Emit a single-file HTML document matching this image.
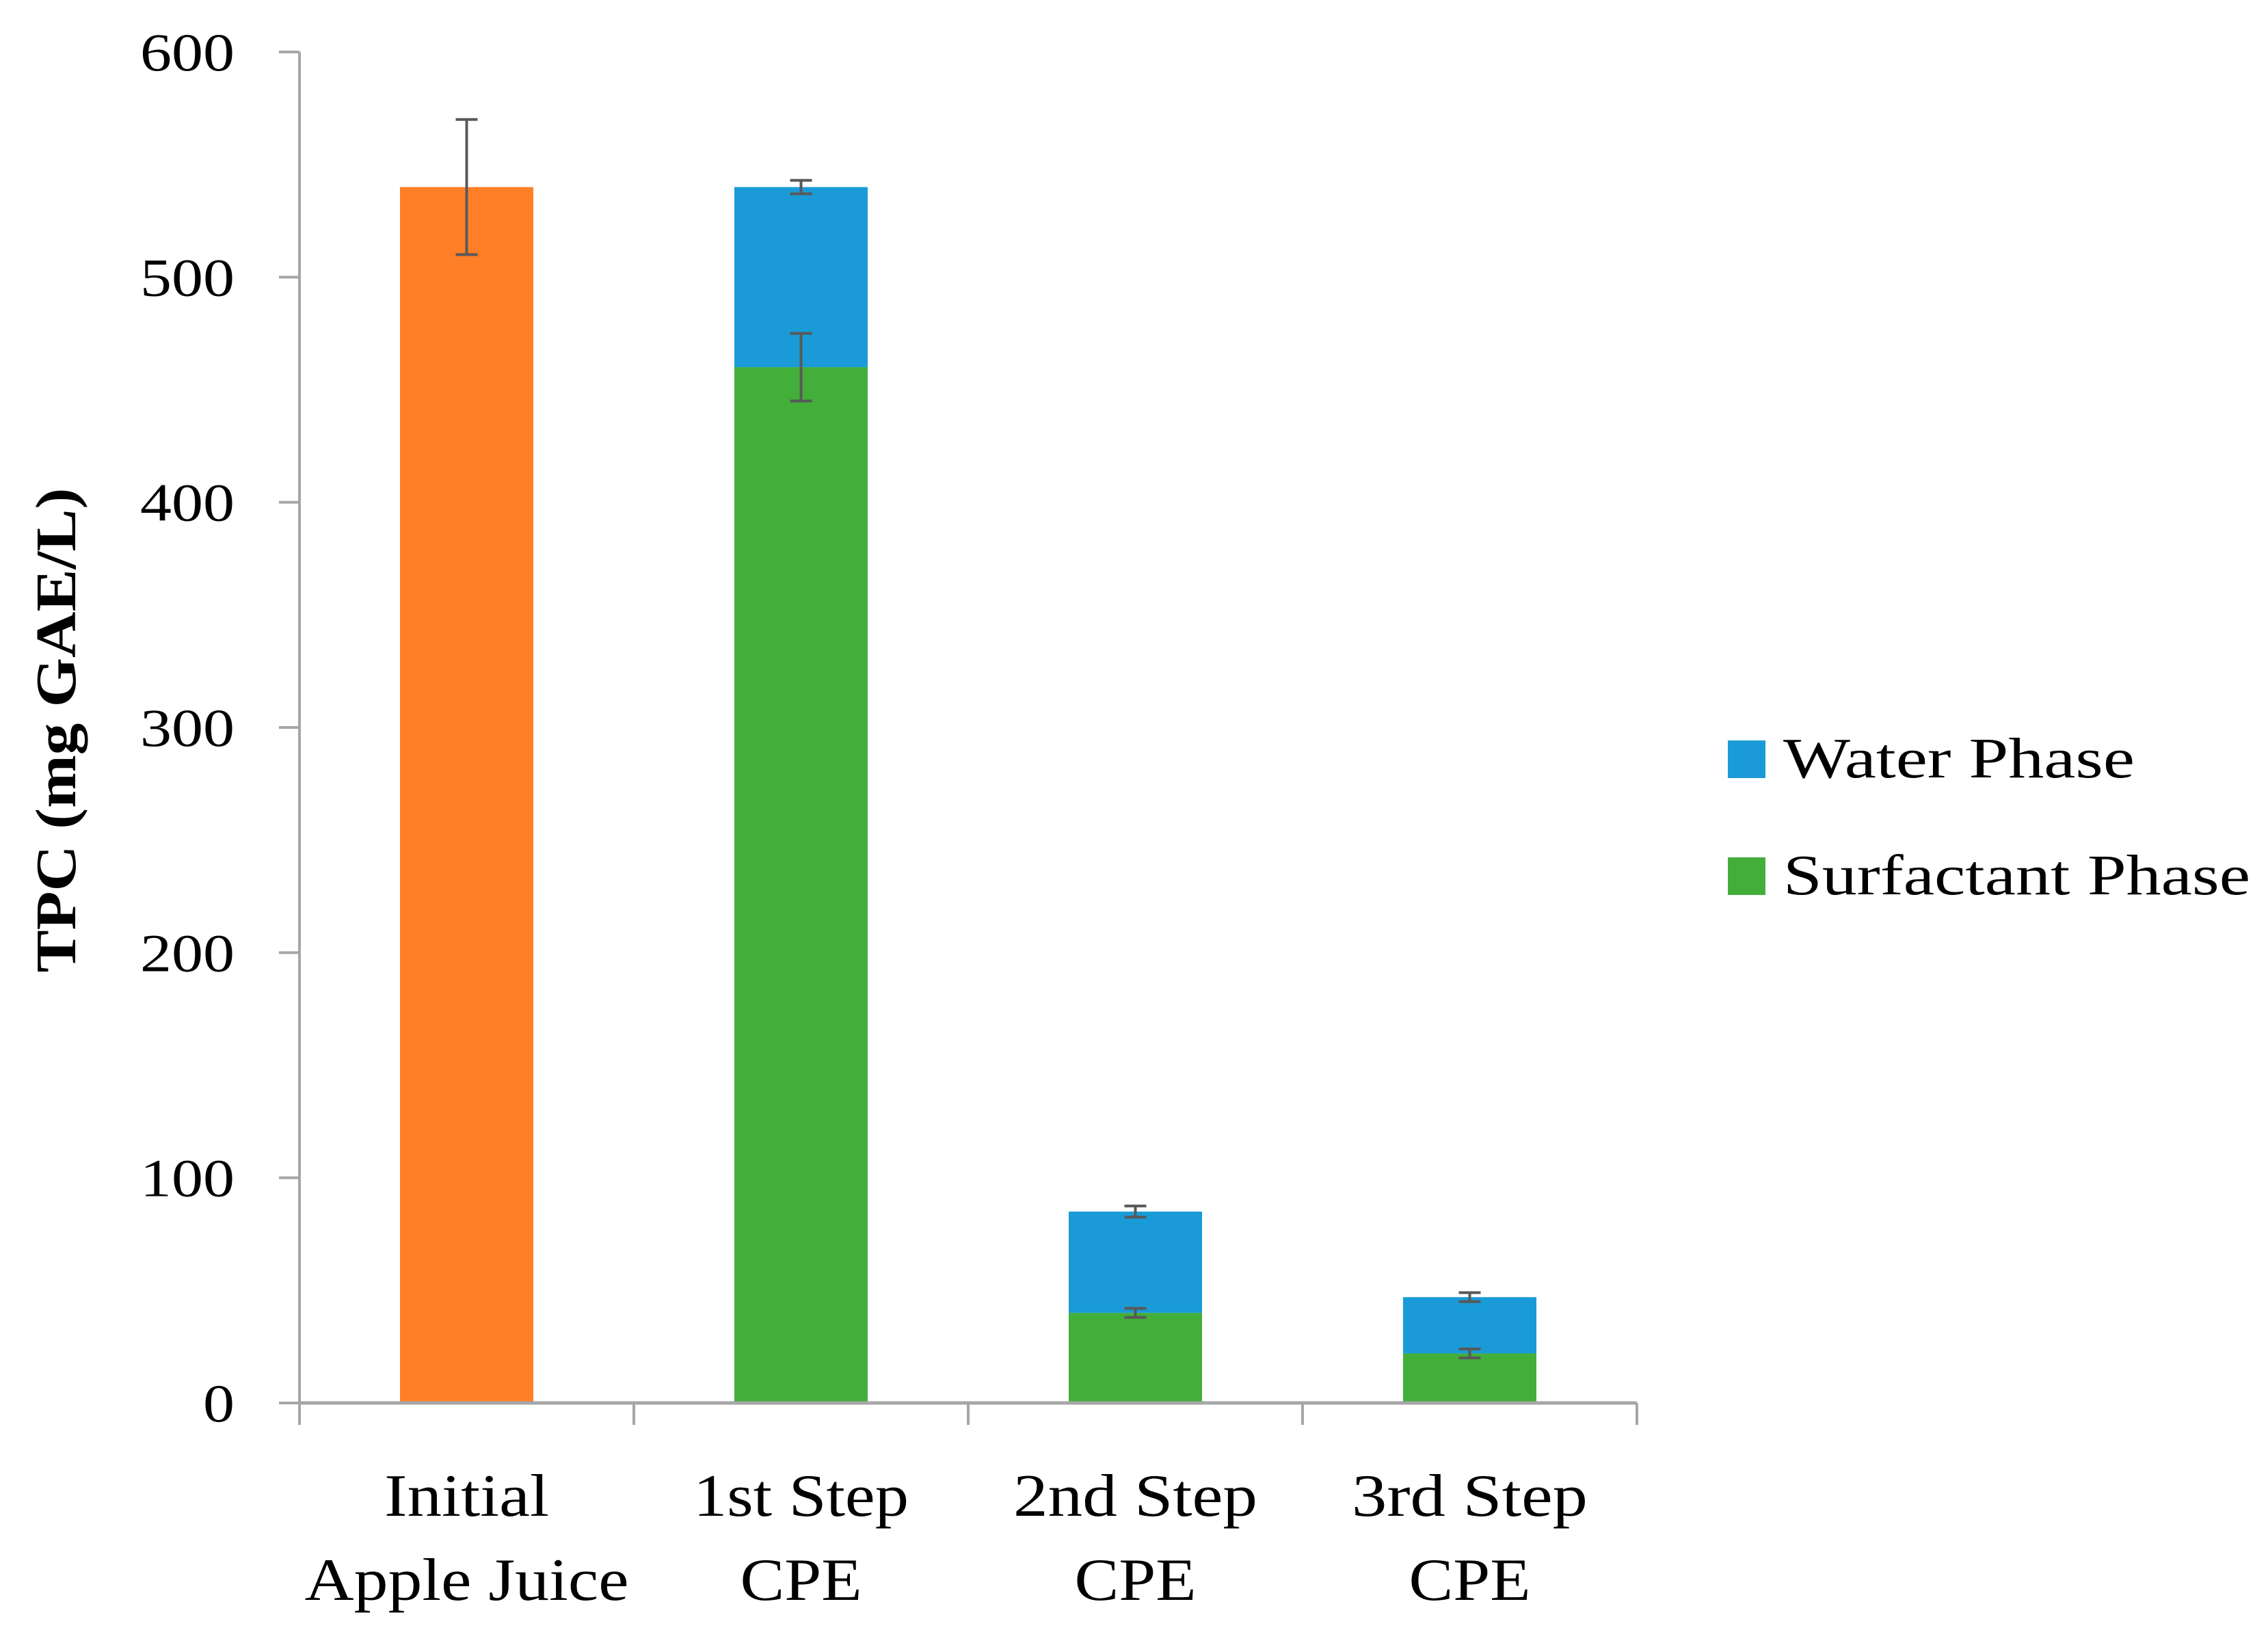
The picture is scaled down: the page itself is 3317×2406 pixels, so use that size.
<!DOCTYPE html>
<html><head><meta charset="utf-8"><style>
html,body{margin:0;padding:0;background:#fff}
svg text{font-family:"Liberation Serif",serif;fill:#000}
</style></head><body>
<svg id="chart" width="3317" height="2401" viewBox="0 0 3317 2401" xmlns="http://www.w3.org/2000/svg">
<g id="plot"></g>
<text transform="translate(110,1068) rotate(-90)" text-anchor="middle" font-size="84" font-weight="bold" textLength="709" lengthAdjust="spacingAndGlyphs">TPC (mg GAE/L)</text>
<g>
<g>
<rect x="2527" y="1083" width="55" height="55" fill="#1A9BD7"/>
<text x="2608" y="1137" font-size="84" textLength="514" lengthAdjust="spacingAndGlyphs">Water Phase</text>
</g>
<g>
<rect x="2527" y="1254" width="55" height="55" fill="#43AE3A"/>
<text x="2608" y="1308" font-size="84" textLength="683" lengthAdjust="spacingAndGlyphs">Surfactant Phase</text>
</g>
</g>
</svg>
<script>
const categories=[["Initial","Apple Juice"],["1st Step","CPE"],["2nd Step","CPE"],["3rd Step","CPE"]];
const juiceValues=[540,0,0,0];
const juiceErr=[30,0,0,0];
const surfactantValues=[0,460,40,22];
const surfactantErr=[0,15,2,2];
const waterValues=[0,80,45,25];
const waterErr=[0,3,2.5,2];
const yTicks=[0,100,200,300,400,500,600];

// text widths (styling, measured from reference)
const catLabelWidths=[[241,474],[315,178],[357,178],[345,178]];
const digitWidth=46;

const NS="http://www.w3.org/2000/svg";
const plot=document.getElementById('plot');
const X0=438,X1=2394,Y0=2052,Y600=76;
const band=(X1-X0)/categories.length, barW=195;
function y(v){return Y0-(v/600)*(Y0-Y600);}
function xc(i){return X0+band*(i+0.5);}
function mk(tag,attrs){const e=document.createElementNS(NS,tag);for(const k in attrs)e.setAttribute(k,attrs[k]);plot.appendChild(e);return e;}

yTicks.forEach(t=>{
  const tk=mk('line',{x1:408,x2:X0,y1:y(t),y2:y(t),stroke:'#a6a6a6','stroke-width':4});
  
  
  const s=String(t);
  const tl=mk('text',{x:343,y:y(t)+27,'text-anchor':'end','font-size':78,textLength:s.length*digitWidth,lengthAdjust:'spacingAndGlyphs'});
  tl.textContent=s;
  
  
});

function bar(i,base,val,color,name){
  if(!val)return;
  const r=mk('rect',{x:xc(i)-barW/2,y:y(base+val),width:barW,height:y(base)-y(base+val),fill:color});
  
  
}
function err(i,v,e){
  if(!e)return;
  const g=mk('path',{d:`M${xc(i)},${y(v+e)}V${y(v-e)}M${xc(i)-16},${y(v+e)}h32M${xc(i)-16},${y(v-e)}h32`,stroke:'#595959','stroke-width':4,fill:'none'});
  
  
}
categories.forEach((c,i)=>{
  bar(i,0,juiceValues[i],'#FF7F27','bar-juice');
  bar(i,0,surfactantValues[i],'#43AE3A','bar-surfactant-phase');
  bar(i,surfactantValues[i],waterValues[i],'#1A9BD7','bar-water-phase');
});
categories.forEach((c,i)=>{
  err(i,juiceValues[i],juiceErr[i]);
  err(i,surfactantValues[i],surfactantErr[i]);
  err(i,surfactantValues[i]+waterValues[i],waterErr[i]);
  c.forEach((line,k)=>{
    const t=mk('text',{x:xc(i),y:2217+k*123,'text-anchor':'middle','font-size':88,textLength:catLabelWidths[i][k],lengthAdjust:'spacingAndGlyphs'});
    t.textContent=line;
    
    
  });
});
const ya=mk('line',{x1:X0,x2:X0,y1:Y600,y2:Y0,stroke:'#a6a6a6','stroke-width':4});


const xa=mk('line',{x1:X0,x2:X1,y1:Y0,y2:Y0,stroke:'#a6a6a6','stroke-width':5});


for(let i=0;i<=categories.length;i++){
  const t=mk('line',{x1:X0+band*i,x2:X0+band*i,y1:Y0,y2:Y0+32,stroke:'#a6a6a6','stroke-width':4});
  
  
}
</script>
</body></html>
